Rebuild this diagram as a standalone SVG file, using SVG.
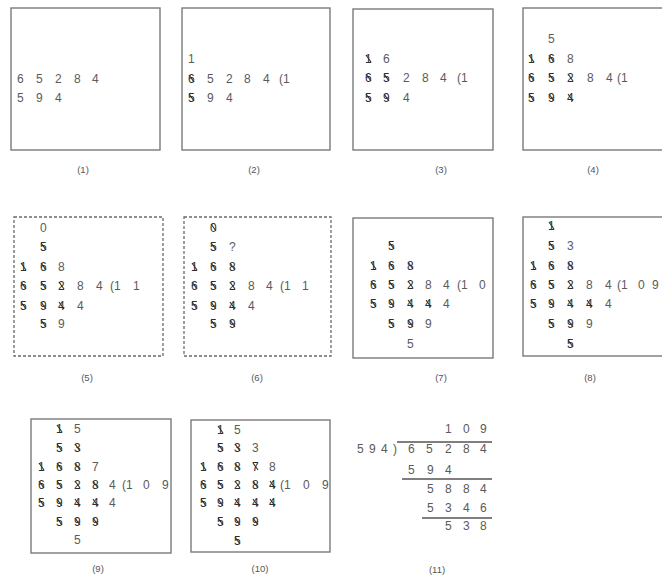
<svg xmlns="http://www.w3.org/2000/svg" width="662" height="578" viewBox="0 0 662 578">
<style>
text{font-family:"Liberation Sans",Arial,sans-serif;font-size:12px;fill:#5a5a5a}
.s{fill:#2e2e2e}
.lb{font-size:9.5px;text-anchor:middle;fill:#555}
.box{fill:none;stroke:#7a7a7a;stroke-width:1.4}
.dash{fill:none;stroke:#6a6a6a;stroke-width:1.3;stroke-dasharray:3 2}
.st{fill:none;stroke:#2e2e2e;stroke-width:1.1}
.rule{stroke:#555;stroke-width:1.3}
</style>
<rect width="662" height="578" fill="#fff"/>

<g id="p1">
<rect class="box" x="11" y="8" width="149" height="142"/>
<text x="17 36 55 74 92" y="83">65284</text>
<text x="17 36 55" y="102">594</text>
<text class="lb" x="83" y="173">(1)</text>
</g>

<g id="p2">
<rect class="box" x="182" y="8" width="148" height="142"/>
<text x="188" y="63">1</text>
<text y="83"><tspan class="s" x="188">6</tspan><tspan x="207 226 244 263">5284</tspan><tspan x="279">(1</tspan></text>
<text y="102"><tspan class="s" x="188">5</tspan><tspan x="207 226">94</tspan></text>
<path class="st" d="M189 75l5 7M189 94l5 7"/>
<text class="lb" x="254" y="173">(2)</text>
</g>

<g id="p3">
<rect class="box" x="353" y="9" width="140" height="141"/>
<text y="63"><tspan class="s" x="365">1</tspan><tspan x="383">6</tspan></text>
<text y="82"><tspan class="s" x="365 383">65</tspan><tspan x="403 422 440">284</tspan><tspan x="457">(1</tspan></text>
<text y="102"><tspan class="s" x="365 383">59</tspan><tspan x="403">4</tspan></text>
<path class="st" d="M366 55l5 7M366 74l5 7M384 74l5 7M366 94l5 7M384 94l5 7"/>
<text class="lb" x="441" y="173">(3)</text>
</g>

<g id="p4">
<rect class="box" x="523" y="8" width="150" height="142"/>
<text x="548" y="43">5</text>
<text y="63"><tspan class="s" x="528 548">16</tspan><tspan x="567">8</tspan></text>
<text y="82"><tspan class="s" x="528 548 567">652</tspan><tspan x="587 606">84</tspan><tspan x="617">(1</tspan></text>
<text class="s" x="528 548 567" y="102">594</text>
<path class="st" d="M529 55l5 7M549 55l5 7M529 74l5 7M549 74l5 7M568 74l5 7M529 94l5 7M549 94l5 7M568 94l5 7"/>
<text class="lb" x="593" y="173">(4)</text>
</g>

<g id="p5">
<rect class="dash" x="14" y="217" width="149" height="139"/>
<text x="40" y="232">0</text>
<text class="s" x="40" y="251">5</text>
<text y="271"><tspan class="s" x="20 40">16</tspan><tspan x="58">8</tspan></text>
<text y="290"><tspan class="s" x="20 40 58">652</tspan><tspan x="77 96">84</tspan><tspan x="110">(1</tspan><tspan x="133">1</tspan></text>
<text y="310"><tspan class="s" x="20 40 58">594</tspan><tspan x="77">4</tspan></text>
<text y="328"><tspan class="s" x="40">5</tspan><tspan x="58">9</tspan></text>
<path class="st" d="M41 243l5 7M21 263l5 7M41 263l5 7M21 282l5 7M41 282l5 7M59 282l5 7M21 302l5 7M41 302l5 7M59 302l5 7M41 320l5 7"/>
<text class="lb" x="87" y="381">(5)</text>
</g>

<g id="p6">
<rect class="dash" x="184" y="217" width="147" height="139"/>
<text class="s" x="210" y="232">0</text>
<text y="251"><tspan class="s" x="210">5</tspan><tspan x="229">?</tspan></text>
<text class="s" x="191 210 229" y="271">168</text>
<text y="290"><tspan class="s" x="191 210 229">652</tspan><tspan x="248 266">84</tspan><tspan x="280">(1</tspan><tspan x="302">1</tspan></text>
<text y="310"><tspan class="s" x="191 210 229">594</tspan><tspan x="248">4</tspan></text>
<text class="s" x="210 229" y="328">59</text>
<path class="st" d="M211 224l5 7M211 243l5 7M192 263l5 7M211 263l5 7M230 263l5 7M192 282l5 7M211 282l5 7M230 282l5 7M192 302l5 7M211 302l5 7M230 302l5 7M211 320l5 7M230 320l5 7"/>
<text class="lb" x="257" y="381">(6)</text>
</g>

<g id="p7">
<rect class="box" x="353" y="218" width="140" height="140"/>
<text class="s" x="388" y="250">5</text>
<text class="s" x="370 388 407" y="270">168</text>
<text y="289"><tspan class="s" x="370 388 407">652</tspan><tspan x="425 443">84</tspan><tspan x="457">(1</tspan><tspan x="479">0</tspan></text>
<text y="308"><tspan class="s" x="370 388 407 425">5944</tspan><tspan x="443">4</tspan></text>
<text y="328"><tspan class="s" x="388 407">59</tspan><tspan x="425">9</tspan></text>
<text x="407" y="348">5</text>
<path class="st" d="M389 242l5 7M371 262l5 7M389 262l5 7M408 262l5 7M371 281l5 7M389 281l5 7M408 281l5 7M371 300l5 7M389 300l5 7M408 300l5 7M426 300l5 7M389 320l5 7M408 320l5 7"/>
<text class="lb" x="441" y="381">(7)</text>
</g>

<g id="p8">
<rect class="box" x="523" y="217" width="150" height="139"/>
<text class="s" x="548" y="230">1</text>
<text y="250"><tspan class="s" x="548">5</tspan><tspan x="567">3</tspan></text>
<text class="s" x="530 548 567" y="270">168</text>
<text y="289"><tspan class="s" x="530 548 567">652</tspan><tspan x="586 605">84</tspan><tspan x="617">(1</tspan><tspan x="638 652">09</tspan></text>
<text y="308"><tspan class="s" x="530 548 567 586">5944</tspan><tspan x="605">4</tspan></text>
<text y="328"><tspan class="s" x="548 567">59</tspan><tspan x="586">9</tspan></text>
<text class="s" x="567" y="348">5</text>
<path class="st" d="M549 222l5 7M549 242l5 7M531 262l5 7M549 262l5 7M568 262l5 7M531 281l5 7M549 281l5 7M568 281l5 7M531 300l5 7M549 300l5 7M568 300l5 7M587 300l5 7M549 320l5 7M568 320l5 7M568 340l5 7"/>
<text class="lb" x="590" y="381">(8)</text>
</g>

<g id="p9">
<rect class="box" x="31" y="419" width="140" height="134"/>
<text y="433"><tspan class="s" x="56">1</tspan><tspan x="74">5</tspan></text>
<text class="s" x="56 74" y="452">53</text>
<text y="471"><tspan class="s" x="38 56 74">168</tspan><tspan x="92">7</tspan></text>
<text y="489"><tspan class="s" x="38 56 74 92">6528</tspan><tspan x="109">4</tspan><tspan x="122">(1</tspan><tspan x="143 162">09</tspan></text>
<text y="507"><tspan class="s" x="38 56 74 92">5944</tspan><tspan x="109">4</tspan></text>
<text class="s" x="56 74 92" y="526">599</text>
<text x="74" y="544">5</text>
<path class="st" d="M57 425l5 7M57 444l5 7M75 444l5 7M39 463l5 7M57 463l5 7M75 463l5 7M39 481l5 7M57 481l5 7M75 481l5 7M93 481l5 7M39 499l5 7M57 499l5 7M75 499l5 7M93 499l5 7M57 518l5 7M75 518l5 7M93 518l5 7"/>
<text class="lb" x="98" y="572">(9)</text>
</g>

<g id="p10">
<rect class="box" x="191" y="420" width="139" height="132"/>
<text y="434"><tspan class="s" x="217">1</tspan><tspan x="234">5</tspan></text>
<text y="452"><tspan class="s" x="217 234">53</tspan><tspan x="252">3</tspan></text>
<text y="471"><tspan class="s" x="200 217 234 252">1687</tspan><tspan x="269">8</tspan></text>
<text y="489"><tspan class="s" x="200 217 234 252 269">65284</tspan><tspan x="280">(1</tspan><tspan x="303 322">09</tspan></text>
<text class="s" x="200 217 234 252 269" y="507">59444</text>
<text class="s" x="217 234 252" y="526">599</text>
<text class="s" x="234" y="545">5</text>
<path class="st" d="M218 426l5 7M218 444l5 7M235 444l5 7M201 463l5 7M218 463l5 7M235 463l5 7M253 463l5 7M201 481l5 7M218 481l5 7M235 481l5 7M253 481l5 7M270 481l5 7M201 499l5 7M218 499l5 7M235 499l5 7M253 499l5 7M270 499l5 7M218 518l5 7M235 518l5 7M253 518l5 7M235 537l5 7"/>
<text class="lb" x="260" y="572">(10)</text>
</g>

<g id="p11">
<text x="445 463 480" y="433">109</text>
<line class="rule" x1="397" y1="442" x2="492" y2="442"/>
<text x="357 369 381 393" y="453">594)</text>
<text x="408 426 445 463 480" y="453">65284</text>
<text x="408 427 445" y="474">594</text>
<line class="rule" x1="402" y1="479" x2="492" y2="479"/>
<text x="427 445 463 480" y="493">5884</text>
<text x="427 445 463 480" y="512">5346</text>
<line class="rule" x1="422" y1="518" x2="492" y2="518"/>
<text x="445 463 480" y="530">538</text>
<text class="lb" x="437" y="573">(11)</text>
</g>
</svg>
